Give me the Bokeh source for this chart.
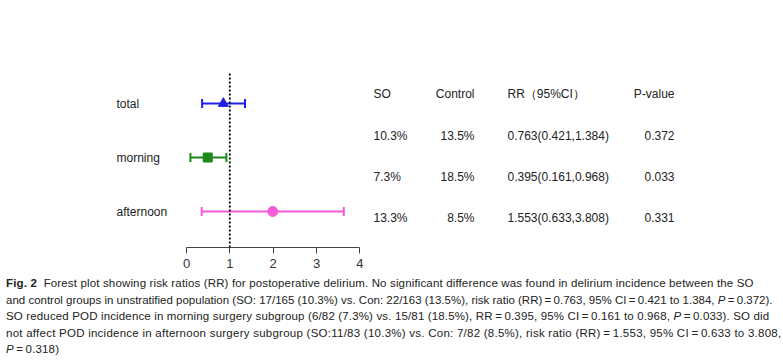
from bokeh.plotting import figure
from bokeh.models import ColumnDataSource, Range1d, Whisker, TeeHead, FixedTicker, Div
from bokeh.layouts import column
from bokeh.core.properties import value
from bokeh.embed import file_html
from bokeh.resources import INLINE

# ---- data ----
groups = ["total", "morning", "afternoon"]
rr_point = [0.85, 0.49, 1.99]
ci_low = [0.36, 0.09, 0.35]
ci_high = [1.35, 0.92, 3.63]
markers = ["triangle", "square", "circle"]
colors = ["#1f1fe6", "#1b8a1b", "#f55ad8"]

so_pct = ["10.3%", "7.3%", "13.3%"]
control_pct = ["13.5%", "18.5%", "8.5%"]
rr_ci = ["0.763(0.421,1.384)", "0.395(0.161,0.968)", "1.553(0.633,3.808)"]
p_values = ["0.372", "0.033", "0.331"]
headers = ["SO", "Control", "RR\uff0895%CI\uff09", "P-value"]
x_ticks = [0, 1, 2, 3, 4]

# ---- layout constants ----
FONT = "Liberation Sans"
PX = 43.33            # pixels per unit on x
X0 = 186              # canvas pixel of x=0
W = 775
FH = 247
ROW_PX = 54
ROW0 = 103
x_start = -X0 / PX
x_end = (W - X0) / PX
y_top = -ROW0 / ROW_PX
y_bot = (FH - ROW0) / ROW_PX

def xpx(px):
    return (px - X0) / PX

def ypx(px):
    return (px - ROW0) / ROW_PX

p = figure(frame_width=W, frame_height=FH, output_backend="svg", toolbar_location=None,
           x_range=Range1d(x_start, x_end), y_range=Range1d(y_bot, y_top),
           min_border_left=0, min_border_right=0, min_border_top=0, min_border_bottom=0)
p.outline_line_color = None
p.xgrid.visible = False
p.ygrid.visible = False
p.yaxis.visible = False
p.background_fill_color = "white"

ax = p.xaxis[0]
ax.bounds = (0, 4)
ax.ticker = FixedTicker(ticks=x_ticks)
ax.minor_tick_line_color = None
ax.major_tick_in = 0
ax.major_tick_out = 6
ax.axis_line_color = "#444444"
ax.major_tick_line_color = "#444444"
ax.major_label_text_font = FONT
ax.major_label_text_font_size = "13px"
ax.major_label_text_color = "#333333"
ax.major_label_standoff = 5

rows = list(range(len(groups)))

# reference line
p.segment(x0=[1], y0=[ypx(73)], x1=[1], y1=[y_bot], line_color="black",
          line_width=1.8, line_dash="2 2")

for i in rows:
    src = ColumnDataSource(dict(y=[i], lo=[ci_low[i]], hi=[ci_high[i]], x=[rr_point[i]]))
    wk = Whisker(base="y", lower="lo", upper="hi", dimension="width", source=src,
                 line_color=colors[i], line_width=2,
                 lower_head=TeeHead(size=9, line_color=colors[i], line_width=2),
                 upper_head=TeeHead(size=9, line_color=colors[i], line_width=2))
    p.add_layout(wk)
    sz = {"triangle": 10, "square": 9, "circle": 10}[markers[i]]
    p.scatter(x="x", y="y", source=src, marker=markers[i], size=sz,
              fill_color=colors[i], line_color=colors[i])

# group labels
p.text(x=[xpx(116)] * len(groups), y=rows, text=groups, text_font=value(FONT),
       text_font_size="12px", text_color="#222222", text_baseline="middle", text_align="left")

# table
head_y = ypx(93)
row_y = [ypx(135), ypx(176), ypx(217)]
cols = [(xpx(373), "left", so_pct), (xpx(474), "right", control_pct),
        (xpx(507), "left", rr_ci), (xpx(674), "right", p_values)]
for (cx, al, vals), h in zip(cols, headers):
    p.text(x=[cx], y=[head_y], text=[h], text_font=value(FONT), text_font_size="12px",
           text_color="#222222", text_baseline="middle", text_align=al)
    p.text(x=[cx] * len(vals), y=row_y, text=vals, text_font=value(FONT),
           text_font_size="12px", text_color="#222222", text_baseline="middle", text_align=al)

eq = "\u2009=\u2009"
caption_lines = [
    "<b>Fig. 2</b>&nbsp; Forest plot showing risk ratios (RR) for postoperative delirium. No significant difference was found in delirium incidence between the SO",
    f"and control groups in unstratified population (SO: 17/165 (10.3%) vs. Con: 22/163 (13.5%), risk ratio (RR){eq}0.763, 95% CI{eq}0.421 to 1.384, <i>P</i>{eq}0.372).",
    f"SO reduced POD incidence in morning surgery subgroup (6/82 (7.3%) vs. 15/81 (18.5%), RR{eq}0.395, 95% CI{eq}0.161 to 0.968, <i>P</i>{eq}0.033). SO did",
    f"not affect POD incidence in afternoon surgery subgroup (SO:11/83 (10.3%) vs. Con: 7/82 (8.5%), risk ratio (RR){eq}1.553, 95% CI{eq}0.633 to 3.808,",
    f"<i>P</i>{eq}0.318)",
]
spacings = ["0.15px", "0px", "0.15px", "0.25px", "0.15px"]
html = "<br>".join(f'<span style="letter-spacing:{s}">{t}</span>'
                   for t, s in zip(caption_lines, spacings))
div = Div(text=html, width=776,
          styles={"font-family": "'Liberation Sans', Arial, sans-serif",
                  "font-size": "11.5px", "line-height": "16.6px", "color": "#222222",
                  "white-space": "nowrap", "margin-left": "6px", "margin-top": "5px"})

layout = column(p, div, spacing=0)
open("out.html", "w").write(file_html(layout, INLINE))
